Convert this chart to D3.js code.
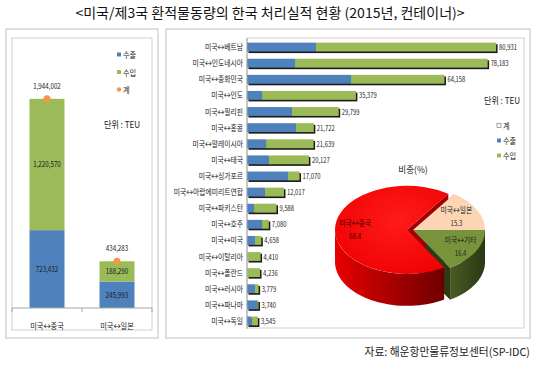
<!DOCTYPE html>
<html>
<head>
<meta charset="utf-8">
<script src="https://cdn.jsdelivr.net/npm/d3@7"></script>
<style>
  body { margin: 0; background: #fff; }
  text { font-family: "Noto Sans CJK KR", "Noto Sans", sans-serif; }
</style>
</head>
<body>
<script>
// ---- data ----
var pairCats = ["미국↔중국", "미국↔일본"];
var pairExport = [723432, 245993];
var pairImport = [1220570, 188290];
var pairTotal = [1944002, 434283];

var routeCats = ["미국↔베트남", "미국↔인도네시아", "미국↔중화민국", "미국↔인도", "미국↔필리핀",
  "미국↔홍콩", "미국↔말레이시아", "미국↔태국", "미국↔싱가포르", "미국↔아랍에미리트연합",
  "미국↔파키스탄", "미국↔호주", "미국↔미국", "미국↔이탈리아", "미국↔폴란드",
  "미국↔러시아", "미국↔파나마", "미국↔독일"];
var routeTotal = [80931, 78183, 64158, 35379, 29799, 21722, 21639, 20127, 17070, 12017,
  9588, 7080, 4658, 4410, 4236, 3779, 3740, 3545];
var routeExport = [22400, 15600, 33800, 4900, 14600, 15900, 6200, 7100, 13300, 5800,
  2300, 4900, 2600, 150, 100, 2600, 3400, 1500];

var shareLabels = ["미국↔일본", "미국↔기타", "미국↔중국"];
var shareValues = [15.3, 16.4, 68.4];

var blue = "#4F81BD", green = "#9BBB59", orange = "#F79646";
var fmt = d3.format(",");

var svg = d3.select("body").append("svg")
  .attr("width", 540)
  .attr("height", 365);

// condensed text helper
function txt(g, x, y, s, size, anchor, sx, color) {
  return g.append("text")
    .attr("transform", "translate(" + x + "," + y + ") scale(" + (sx || 1) + ",1)")
    .attr("text-anchor", anchor || "start")
    .style("font-size", size + "px")
    .style("fill", color || "#222")
    .text(s);
}

// title
txt(svg, 270, 18, "<미국/제3국 환적물동량의 한국 처리실적 현황 (2015년, 컨테이너)>", 13.5, "middle", 1.04, "#111");

// frames
svg.append("rect").attr("x", 6).attr("y", 29).attr("width", 152).attr("height", 309)
  .attr("fill", "none").attr("stroke", "#BFBFBF");
svg.append("rect").attr("x", 12).attr("y", 38).attr("width", 140).attr("height", 292)
  .attr("fill", "none").attr("stroke", "#D0D0D0");
svg.append("rect").attr("x", 166).attr("y", 29).attr("width", 364).attr("height", 309)
  .attr("fill", "none").attr("stroke", "#BFBFBF");
svg.append("rect").attr("x", 247).attr("y", 38).attr("width", 277).attr("height", 290)
  .attr("fill", "none").attr("stroke", "#D0D0D0");

// ---- left chart: stacked columns ----
var xL = d3.scaleBand().domain(pairCats).range([12, 152]).paddingInner(0.5).paddingOuter(0.25);
var yL = d3.scaleLinear().domain([0, 2500000]).range([308, 39]);

var left = svg.append("g");
pairCats.forEach(function(c, i) {
  var x0 = xL(c), w = xL.bandwidth();
  left.append("rect").attr("x", x0).attr("width", w)
    .attr("y", yL(pairExport[i])).attr("height", yL(0) - yL(pairExport[i]))
    .attr("fill", blue);
  left.append("rect").attr("x", x0).attr("width", w)
    .attr("y", yL(pairExport[i] + pairImport[i])).attr("height", yL(0) - yL(pairImport[i]))
    .attr("fill", green);
  left.append("circle").attr("cx", x0 + w / 2).attr("cy", yL(pairTotal[i])).attr("r", 3.5)
    .attr("fill", orange);
  txt(left, x0 + w / 2, (yL(0) + yL(pairExport[i])) / 2 + 3, fmt(pairExport[i]), 8, "middle", 0.78, "#1a1a1a");
  txt(left, x0 + w / 2, (yL(pairExport[i]) + yL(pairTotal[i])) / 2 + 3, fmt(pairImport[i]), 8, "middle", 0.78, "#1a1a1a");
  txt(left, x0 + w / 2, yL(pairTotal[i]) - 10, fmt(pairTotal[i]), 8, "middle", 0.78, "#1a1a1a");
});

var axL = left.append("g").attr("transform", "translate(0,308)")
  .call(d3.axisBottom(xL).tickSize(0).tickFormat(""));
axL.select(".domain").attr("stroke", "#A6A6A6").attr("d", "M12,0H152");
[12, 82, 152].forEach(function(t) {
  axL.append("line").attr("x1", t).attr("x2", t).attr("y1", 0).attr("y2", 4).attr("stroke", "#A6A6A6");
});
pairCats.forEach(function(c) {
  txt(left, xL(c) + xL.bandwidth() / 2, 329, c, 8.5, "middle", 0.85, "#222");
});

// left legend
var legL = [{n: "수출", c: blue, t: "s"}, {n: "수입", c: green, t: "s"}, {n: "계", c: orange, t: "c"}];
legL.forEach(function(d, i) {
  var yy = 56 + i * 17.5;
  if (d.t === "s") left.append("rect").attr("x", 117).attr("y", yy - 3.5).attr("width", 4).attr("height", 4).attr("fill", d.c);
  else left.append("circle").attr("cx", 119).attr("cy", yy - 1.5).attr("r", 2.2).attr("fill", d.c);
  txt(left, 123, yy + 2, d.n, 8, "start", 0.9, "#222");
});
txt(left, 122, 128, "단위 : TEU", 9.5, "middle", 0.85, "#222");

// ---- right chart: horizontal stacked bars ----
var yR = d3.scaleBand().domain(routeCats).range([39, 329]).paddingInner(0.45).paddingOuter(0.225);
var xR = d3.scaleLinear().domain([0, 90000]).range([247, 524]);
var right = svg.append("g");
var bh = yR.bandwidth();

routeCats.forEach(function(c, i) {
  var y0 = yR(c);
  right.append("rect").attr("x", xR(0) + 1.5).attr("y", y0 + 1.6)
    .attr("width", xR(routeTotal[i]) - xR(0)).attr("height", bh).attr("fill", "#1c1c1c");
  right.append("rect").attr("x", xR(0)).attr("y", y0)
    .attr("width", xR(routeExport[i]) - xR(0)).attr("height", bh).attr("fill", blue);
  right.append("rect").attr("x", xR(routeExport[i])).attr("y", y0)
    .attr("width", xR(routeTotal[i]) - xR(routeExport[i])).attr("height", bh).attr("fill", green);
  txt(right, xR(routeTotal[i]) + 3, y0 + bh / 2 + 3, fmt(routeTotal[i]), 7.5, "start", 0.78, "#1a1a1a");
  txt(right, 243, y0 + bh / 2 + 3, c, 8.2, "end", 0.83, "#222");
});
right.append("g").attr("transform", "translate(247,0)")
  .call(d3.axisLeft(yR).tickSize(0).tickFormat(""))
  .select(".domain").attr("stroke", "#A6A6A6").attr("d", "M0,38V329");

// right legend
txt(right, 502, 104, "단위 : TEU", 9.5, "middle", 0.85, "#222");
var legR = [{n: "계", c: "#fff"}, {n: "수출", c: blue}, {n: "수입", c: green}];
legR.forEach(function(d, i) {
  var yy = 127 + i * 15;
  right.append("rect").attr("x", 497).attr("y", yy - 3.5).attr("width", 4).attr("height", 4)
    .attr("fill", d.c).attr("stroke", i === 0 ? "#666" : "none").attr("stroke-width", 0.6);
  txt(right, 503, yy + 2, d.n, 8, "start", 0.9, "#222");
});

// ---- 3D pie ----
txt(right, 413, 173, "비중(%)", 9.5, "middle", 0.9, "#222");
var cx = 413, cy = 230, rx = 72, ry = 44, depth = 32;
var pie = d3.pie().sort(null).startAngle(35 * Math.PI / 180).endAngle(35 * Math.PI / 180 + 2 * Math.PI);
var arcs = pie(shareValues);
var topCol = ["#FCD5B5", "#77933C", "#FF0000"];
var sideCol = ["#D9A47E", "url(#gSide)", "url(#rSide)"];
var cutCol = ["#C89670", "#2E3A16", "#A00000"];
var explode = [0, 0, 6];

var defs = svg.append("defs");
var rg = defs.append("linearGradient").attr("id", "rSide").attr("x1", 0).attr("x2", 1).attr("y1", 0).attr("y2", 0);
rg.append("stop").attr("offset", "0%").attr("stop-color", "#E80000");
rg.append("stop").attr("offset", "100%").attr("stop-color", "#6E0000");
var gg = defs.append("linearGradient").attr("id", "gSide").attr("x1", 0).attr("x2", 1).attr("y1", 0).attr("y2", 0);
gg.append("stop").attr("offset", "0%").attr("stop-color", "#4A5C25");
gg.append("stop").attr("offset", "100%").attr("stop-color", "#2C3714");
var rt = defs.append("radialGradient").attr("id", "rTop").attr("cx", "55%").attr("cy", "40%").attr("r", "70%");
rt.append("stop").attr("offset", "0%").attr("stop-color", "#FF1A1A");
rt.append("stop").attr("offset", "100%").attr("stop-color", "#F00000");

function pt(a, ox, oy, dz) {
  return [cx + ox + rx * Math.sin(a), cy + oy - ry * Math.cos(a) + (dz || 0)];
}
var line = d3.line();
var pieG = svg.append("g");

arcs.forEach(function(d, i) {
  var mid = (d.startAngle + d.endAngle) / 2;
  d.ox = explode[i] * Math.sin(mid);
  d.oy = -explode[i] * Math.cos(mid) * ry / rx;
});

// radial cut faces
arcs.forEach(function(d, i) {
  [d.startAngle, d.endAngle].forEach(function(a) {
    var c0 = [cx + d.ox, cy + d.oy], e = pt(a, d.ox, d.oy);
    pieG.append("path")
      .attr("d", line([c0, e, [e[0], e[1] + depth], [c0[0], c0[1] + depth]]) + "Z")
      .attr("fill", cutCol[i]);
  });
});

// outer sides (front half only)
arcs.forEach(function(d, i) {
  [[Math.PI / 2, 3 * Math.PI / 2], [Math.PI / 2 + 2 * Math.PI, 3 * Math.PI / 2 + 2 * Math.PI]].forEach(function(w) {
    var a0 = Math.max(d.startAngle, w[0]), a1 = Math.min(d.endAngle, w[1]);
    if (a1 <= a0) return;
    var n = 40, topPts = [], botPts = [];
    for (var k = 0; k <= n; k++) {
      var a = a0 + (a1 - a0) * k / n;
      topPts.push(pt(a, d.ox, d.oy));
      botPts.push(pt(a, d.ox, d.oy, depth));
    }
    pieG.append("path")
      .attr("d", line(topPts.concat(botPts.reverse())) + "Z")
      .attr("fill", sideCol[i]);
  });
});

// top faces
var arcGen = d3.arc().innerRadius(0).outerRadius(rx);
arcs.forEach(function(d, i) {
  pieG.append("path")
    .attr("transform", "translate(" + (cx + d.ox) + "," + (cy + d.oy) + ") scale(1," + (ry / rx) + ")")
    .attr("d", arcGen(d))
    .attr("fill", i === 2 ? "url(#rTop)" : topCol[i]);
});

// pie labels
arcs.forEach(function(d, i) {
  var mid = (d.startAngle + d.endAngle) / 2, f = i === 2 ? 0.72 : (i === 1 ? 0.76 : 0.68);
  var lx = cx + d.ox + f * rx * Math.sin(mid), ly = cy + d.oy - f * ry * Math.cos(mid);
  var col = i === 2 ? "#3a0000" : "#222";
  txt(pieG, lx, ly - 3, shareLabels[i], 8, "middle", 0.85, col);
  txt(pieG, lx, ly + 10, shareValues[i].toFixed(1), 7.5, "middle", 0.8, col);
});

// source
txt(svg, 530, 356, "자료: 해운항만물류정보센터(SP-IDC)", 11, "end", 0.98, "#222");
</script>
</body>
</html>
